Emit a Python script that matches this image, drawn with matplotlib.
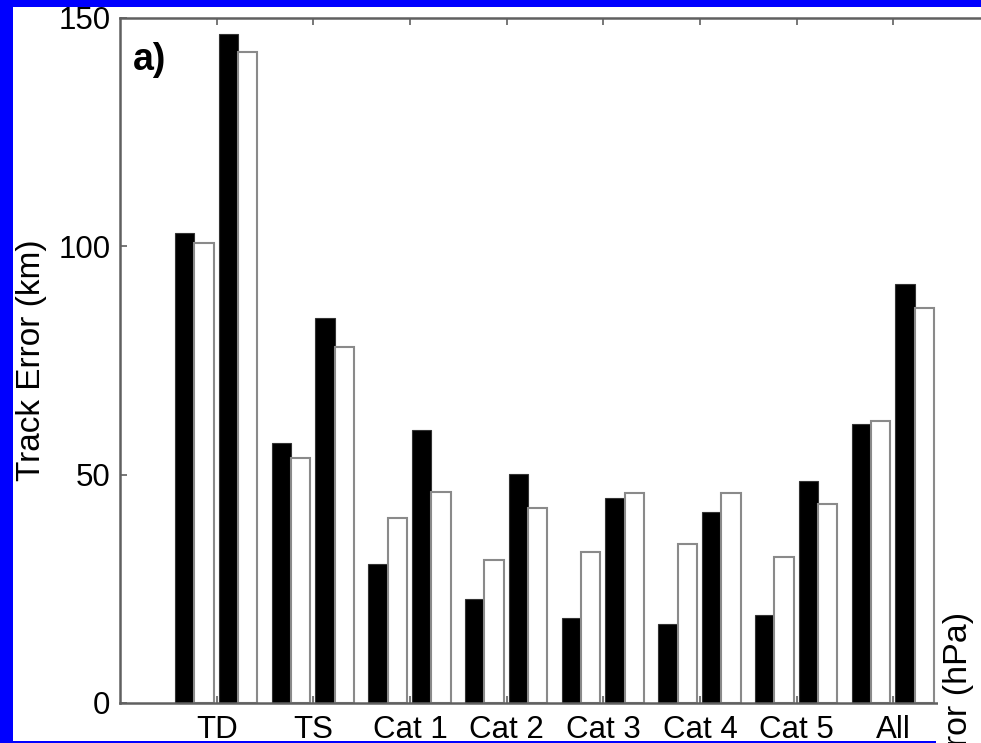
import numpy as np
import matplotlib
matplotlib.use("Agg")
import matplotlib.pyplot as plt
from matplotlib.patches import Rectangle

# categories and the four bar series (track error, km)
categories = ["TD", "TS", "Cat 1", "Cat 2", "Cat 3", "Cat 4", "Cat 5", "All"]
black_1 = [102.9, 56.9, 30.4, 22.8, 18.7, 17.4, 19.3, 61.2]
white_1 = [100.7, 53.6, 40.6, 31.3, 33.1, 34.8, 32.0, 61.7]
black_2 = [146.5, 84.2, 59.8, 50.1, 45.0, 41.8, 48.7, 91.7]
white_2 = [142.5, 77.9, 46.1, 42.6, 45.9, 45.9, 43.6, 86.6]
y_ticks = [0, 50, 100, 150]

plt.rcParams["font.family"] = ["Liberation Sans", "DejaVu Sans"]

W, H = 981, 743
fig = plt.figure(figsize=(W / 100, H / 100), dpi=100)
fig.patch.set_facecolor("#0000ff")

# white page inside the blue frame
fig.patches.append(Rectangle((13 / W, 2 / H), 1, 734 / H, transform=fig.transFigure,
                             facecolor="white", edgecolor="none", zorder=-2))
fig.patches.append(Rectangle((936 / W, 0), 1, 60 / H, transform=fig.transFigure,
                             facecolor="white", edgecolor="none", zorder=-2))

ax = fig.add_axes([120 / W, 40 / H, 870 / W, 685 / H])
ax.set_facecolor("white")

x = np.arange(1, len(categories) + 1)
w = 0.2
ax.bar(x - 0.33, black_1, w, color="black", edgecolor="#333333", linewidth=0.8)
ax.bar(x - 0.13, white_1, w, color="white", edgecolor="#8a8a8a", linewidth=1.5)
ax.bar(x + 0.12, black_2, w, color="black", edgecolor="#333333", linewidth=0.8)
ax.bar(x + 0.32, white_2, w, color="white", edgecolor="#8a8a8a", linewidth=1.5)

ax.set_xlim(0, 9)
ax.set_ylim(0, 150)
ax.set_xticks(x)
ax.set_xticklabels(categories)
ax.set_yticks(y_ticks)
ax.tick_params(direction="in", length=5, width=1.2, color="#606060",
               top=True, right=True, labelsize=22.5, pad=7)
ax.tick_params(axis="x", pad=9)
for s in ax.spines.values():
    s.set_color("#606060")
    s.set_linewidth(1.8)

ax.set_ylabel("Track Error (km)", fontsize=24)
ax.yaxis.set_label_coords(-0.084, 0.5)

ax.text(13 / 870, 0.965, "a)", transform=ax.transAxes, fontsize=27,
        fontweight="bold", ha="left", va="top")

# y label of the neighbouring panel, cut by the image edge
fig.patches.append(Rectangle((938 / W, 0), 1, 45 / H, transform=fig.transFigure,
                             facecolor="white", edgecolor="none", zorder=5))
fig.text(958 / W, 1 - 612 / H, "Error (hPa)", rotation=90, fontsize=24.5,
         ha="center", va="top", zorder=6)

fig.savefig("out.png", dpi=100, facecolor=fig.get_facecolor())
